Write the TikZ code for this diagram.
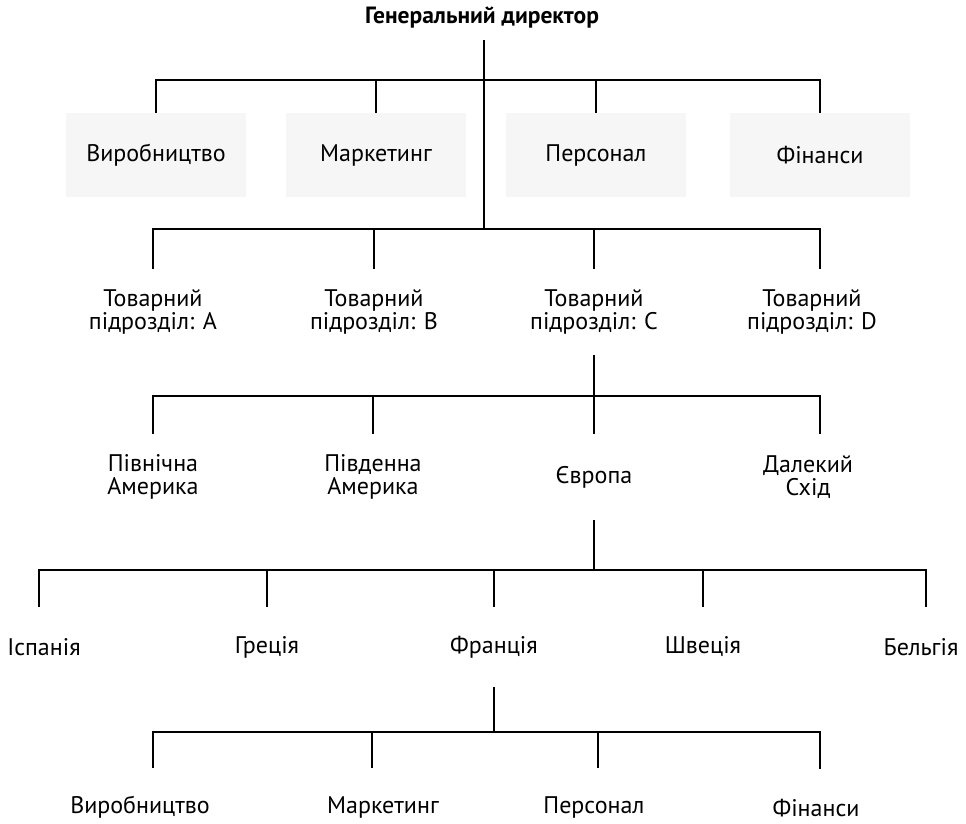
\documentclass[tikz,border=0pt]{standalone}
\usepackage{fontspec}
\setmainfont{PT Sans}
\begin{document}
\begin{tikzpicture}[x=1pt,y=-1pt,
  unit/.style={align=center, font=\fontsize{24}{23}\selectfont, inner sep=0pt, minimum height=84pt},
  dept/.style={unit, fill=gray!7, minimum width=180pt},
  link/.style={line width=1.5pt}]
\useasboundingbox (0,0) rectangle (966,823);

% top of the chart
\node[font=\bfseries\fontsize{23.5}{23}\selectfont, inner sep=0pt, minimum height=44pt] (gd) at (482,18) {Генеральний директор};
\coordinate (h1) at (484,80);
\coordinate (h2) at (484,229);

% functional departments
\node[dept] (f1) at (156,155) {Виробництво};
\node[dept] (f2) at (376,155) {Маркетинг};
\node[dept] (f3) at (596,155) {Персонал};
\node[dept] (f4) at (820,155) {Фінанси};

\draw[link] (gd.south -| h1) -- (h2);
\draw[link] (f1.north) |- (h1) -| (f4.north);
\draw[link] (f2.north) -- (f2.north |- h1);
\draw[link] (f3.north) -- (f3.north |- h1);

% product divisions
\node[unit, minimum height=86pt] (p1) at (153,312) {Товарний\\підрозділ: A};
\node[unit, minimum height=86pt] (p2) at (374,312) {Товарний\\підрозділ: B};
\node[unit, minimum height=86pt] (p3) at (594,312) {Товарний\\підрозділ: C};
\node[unit, minimum height=86pt] (p4) at (812,312) {Товарний\\підрозділ: D};
\coordinate (h3) at (594,396);

\draw[link] (p1.north) |- (h2) -| ([xshift=8pt]p4.north);
\draw[link] (p2.north) -- (p2.north |- h2);
\draw[link] (p3.north) -- (p3.north |- h2);
\draw[link] (p3.south) -- (h3);

% regions
\node[unit, minimum height=86pt] (r1) at (153,477) {Північна\\Америка};
\node[unit, minimum height=86pt] (r2) at (373,477) {Південна\\Америка};
\node[unit, minimum height=86pt] (r3) at (594,477) {Європа};
\node[unit, minimum height=86pt] (r4) at (808,477) {Далекий\\Схід};
\coordinate (h4) at (594,570);

\draw[link] (r1.north) |- (h3) -| ([xshift=12pt]r4.north);
\draw[link] (r2.north) -- (r2.north |- h3);
\draw[link] (r3.north) -- (h3);
\draw[link] (r3.south) -- (h4);

% countries
\node[unit, minimum height=80pt] (c1) at (44,647) {Іспанія};
\node[unit, minimum height=80pt] (c2) at (267,647) {Греція};
\node[unit, minimum height=80pt] (c3) at (494,647) {Франція};
\node[unit, minimum height=80pt] (c4) at (703,647) {Швеція};
\node[unit, minimum height=80pt] (c5) at (921,647) {Бельгія};
\coordinate (h5) at (494,732);

\draw[link] ([xshift=-5pt]c1.north) |- (h4) -| ([xshift=5pt]c5.north);
\draw[link] (c2.north) -- (c2.north |- h4);
\draw[link] (c3.north) -- (c3.north |- h4);
\draw[link] (c4.north) -- (c4.north |- h4);
\draw[link] (c3.south) -- (h5);

% functions within the country
\node[unit, minimum height=78pt] (d1) at (140,807) {Виробництво};
\node[unit, minimum height=78pt] (d2) at (383,807) {Маркетинг};
\node[unit, minimum height=78pt] (d3) at (594,807) {Персонал};
\node[unit, minimum height=78pt] (d4) at (816,808) {Фінанси};

\draw[link] ([xshift=13pt]d1.north) |- (h5) -| ([xshift=4pt]d4.north);
\draw[link] ([xshift=-11pt]d2.north) -- ([xshift=-11pt]d2.north |- h5);
\draw[link] ([xshift=4pt]d3.north) -- ([xshift=4pt]d3.north |- h5);
\end{tikzpicture}
\end{document}
